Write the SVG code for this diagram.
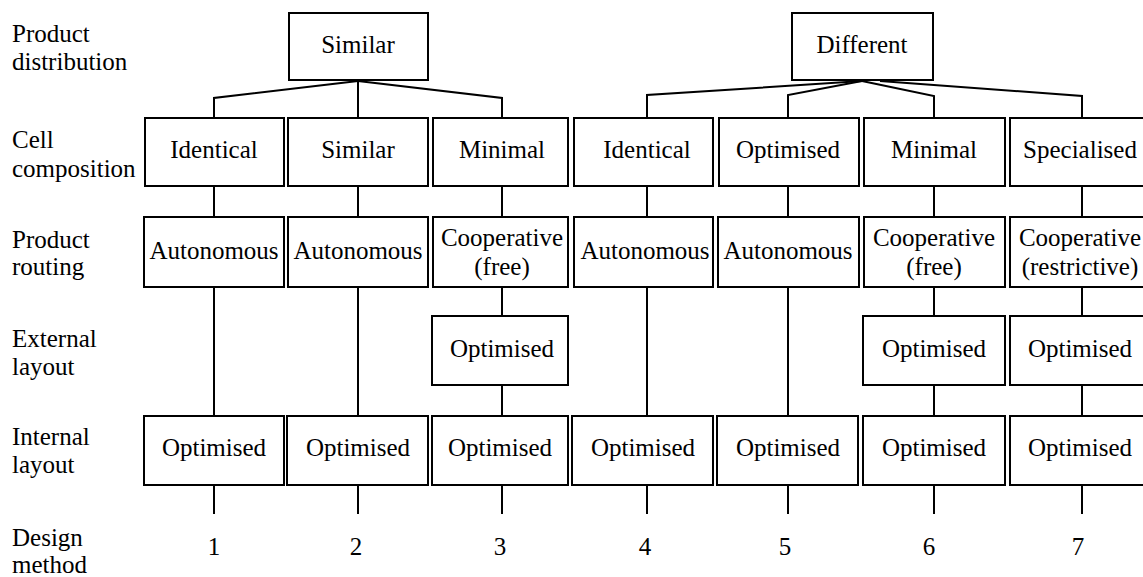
<svg xmlns="http://www.w3.org/2000/svg" width="1143" height="577" viewBox="0 0 1143 577">
<style>
  .box { fill: #ffffff; stroke: #000000; stroke-width: 2; }
  .ln { fill: none; stroke: #000000; stroke-width: 2; }
  text { font-family: 'Liberation Serif', 'Times New Roman', serif; font-size: 25px; fill: #000000; }
  .c { text-anchor: middle; }
</style>
<rect width="1143" height="577" fill="#ffffff"/>
<g id="row-labels">
  <text x="12" y="42">Product</text><text x="12" y="70">distribution</text>
  <text x="12" y="148">Cell</text><text x="12" y="177">composition</text>
  <text x="12" y="248">Product</text><text x="12" y="275">routing</text>
  <text x="12" y="347">External</text><text x="12" y="375">layout</text>
  <text x="12" y="445">Internal</text><text x="12" y="473">layout</text>
  <text x="12" y="546">Design</text><text x="12" y="573">method</text>
</g>
<g id="connectors">
  <polyline class="ln" points="358,81 214,98 214,118"/>
  <line class="ln" x1="358" y1="80" x2="358" y2="118"/>
  <polyline class="ln" points="358,81 502,98 502,118"/>
  <polyline class="ln" points="862,81 647,95 647,118"/>
  <polyline class="ln" points="862,81 788,95 788,118"/>
  <polyline class="ln" points="862,81 934,96 934,118"/>
  <polyline class="ln" points="880,81 1082,96 1082,118"/>
  <line class="ln" x1="214" y1="186" x2="214" y2="217"/>
  <line class="ln" x1="358" y1="186" x2="358" y2="217"/>
  <line class="ln" x1="502" y1="186" x2="502" y2="217"/>
  <line class="ln" x1="647" y1="186" x2="647" y2="217"/>
  <line class="ln" x1="788" y1="186" x2="788" y2="217"/>
  <line class="ln" x1="934" y1="186" x2="934" y2="217"/>
  <line class="ln" x1="1082" y1="186" x2="1082" y2="217"/>
  <line class="ln" x1="214" y1="287" x2="214" y2="416"/>
  <line class="ln" x1="358" y1="287" x2="358" y2="416"/>
  <line class="ln" x1="502" y1="287" x2="502" y2="316"/>
  <line class="ln" x1="502" y1="385" x2="502" y2="416"/>
  <line class="ln" x1="647" y1="287" x2="647" y2="416"/>
  <line class="ln" x1="788" y1="287" x2="788" y2="416"/>
  <line class="ln" x1="934" y1="287" x2="934" y2="316"/>
  <line class="ln" x1="934" y1="385" x2="934" y2="416"/>
  <line class="ln" x1="1082" y1="287" x2="1082" y2="316"/>
  <line class="ln" x1="1082" y1="385" x2="1082" y2="416"/>
  <line class="ln" x1="214" y1="485" x2="214" y2="514"/>
  <line class="ln" x1="358" y1="485" x2="358" y2="514"/>
  <line class="ln" x1="502" y1="485" x2="502" y2="514"/>
  <line class="ln" x1="647" y1="485" x2="647" y2="514"/>
  <line class="ln" x1="788" y1="485" x2="788" y2="514"/>
  <line class="ln" x1="934" y1="485" x2="934" y2="514"/>
  <line class="ln" x1="1082" y1="485" x2="1082" y2="514"/>
</g>
<g id="dist-similar"><rect class="box" x="289" y="13" width="139" height="67"/><text class="c" x="358" y="53">Similar</text></g>
<g id="dist-different"><rect class="box" x="792" y="13" width="141" height="67"/><text class="c" x="862" y="53">Different</text></g>

<g id="cell-1"><rect class="box" x="145" y="118" width="139" height="68"/><text class="c" x="214" y="158">Identical</text></g>
<g id="cell-2"><rect class="box" x="288" y="118" width="140" height="68"/><text class="c" x="358" y="158">Similar</text></g>
<g id="cell-3"><rect class="box" x="433" y="118" width="135" height="68"/><text class="c" x="502" y="158">Minimal</text></g>
<g id="cell-4"><rect class="box" x="574" y="118" width="139" height="68"/><text class="c" x="647" y="158">Identical</text></g>
<g id="cell-5"><rect class="box" x="719" y="118" width="140" height="68"/><text class="c" x="788" y="158">Optimised</text></g>
<g id="cell-6"><rect class="box" x="864" y="118" width="141" height="68"/><text class="c" x="934" y="158">Minimal</text></g>
<g id="cell-7"><rect class="box" x="1010" y="118" width="142" height="68"/><text class="c" x="1080" y="158">Specialised</text></g>

<g id="route-1"><rect class="box" x="144" y="217" width="140" height="70"/><text class="c" x="214" y="259">Autonomous</text></g>
<g id="route-2"><rect class="box" x="288" y="217" width="140" height="70"/><text class="c" x="358" y="259">Autonomous</text></g>
<g id="route-3"><rect class="box" x="433" y="217" width="135" height="70"/><text class="c" x="502" y="246">Cooperative</text><text class="c" x="502" y="275">(free)</text></g>
<g id="route-4"><rect class="box" x="574" y="217" width="139" height="70"/><text class="c" x="645" y="259">Autonomous</text></g>
<g id="route-5"><rect class="box" x="718" y="217" width="141" height="70"/><text class="c" x="788" y="259">Autonomous</text></g>
<g id="route-6"><rect class="box" x="864" y="217" width="141" height="70"/><text class="c" x="934" y="246">Cooperative</text><text class="c" x="934" y="275">(free)</text></g>
<g id="route-7"><rect class="box" x="1010" y="217" width="142" height="70"/><text class="c" x="1080" y="246">Cooperative</text><text class="c" x="1080" y="275">(restrictive)</text></g>

<g id="ext-3"><rect class="box" x="432" y="316" width="136" height="69"/><text class="c" x="502" y="357">Optimised</text></g>
<g id="ext-6"><rect class="box" x="863" y="316" width="142" height="69"/><text class="c" x="934" y="357">Optimised</text></g>
<g id="ext-7"><rect class="box" x="1010" y="316" width="142" height="69"/><text class="c" x="1080" y="357">Optimised</text></g>

<g id="int-1"><rect class="box" x="144" y="416" width="140" height="69"/><text class="c" x="214" y="456">Optimised</text></g>
<g id="int-2"><rect class="box" x="287" y="416" width="141" height="69"/><text class="c" x="358" y="456">Optimised</text></g>
<g id="int-3"><rect class="box" x="432" y="416" width="136" height="69"/><text class="c" x="500" y="456">Optimised</text></g>
<g id="int-4"><rect class="box" x="572" y="416" width="141" height="69"/><text class="c" x="643" y="456">Optimised</text></g>
<g id="int-5"><rect class="box" x="717" y="416" width="141" height="69"/><text class="c" x="788" y="456">Optimised</text></g>
<g id="int-6"><rect class="box" x="863" y="416" width="142" height="69"/><text class="c" x="934" y="456">Optimised</text></g>
<g id="int-7"><rect class="box" x="1010" y="416" width="142" height="69"/><text class="c" x="1080" y="456">Optimised</text></g>

<g id="methods">
  <text class="c" x="214" y="555">1</text>
  <text class="c" x="356" y="555">2</text>
  <text class="c" x="500" y="555">3</text>
  <text class="c" x="645" y="555">4</text>
  <text class="c" x="785" y="555">5</text>
  <text class="c" x="929" y="555">6</text>
  <text class="c" x="1078" y="555">7</text>
</g>
</svg>
